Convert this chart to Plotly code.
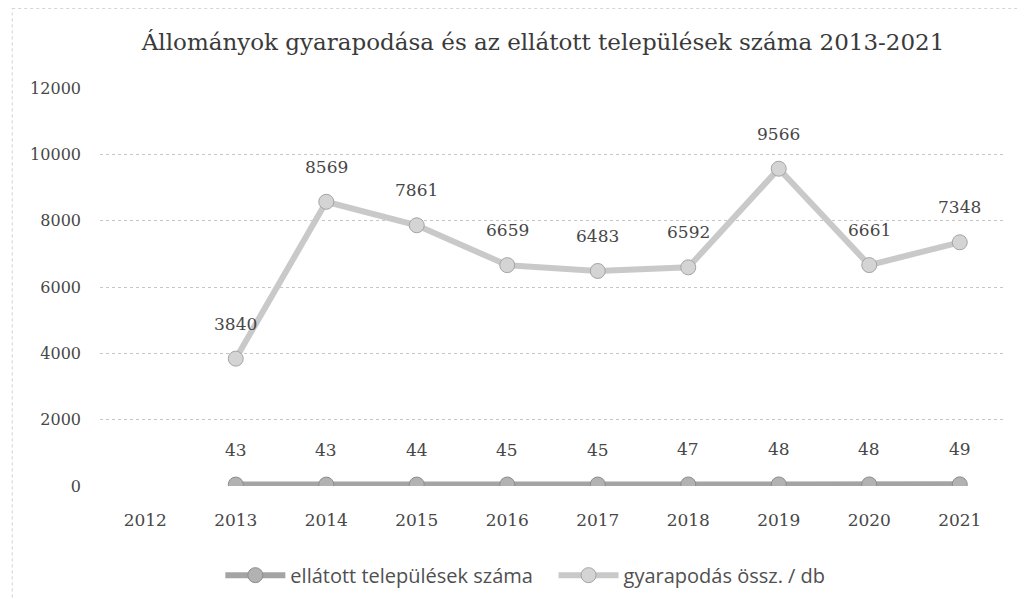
import plotly.graph_objects as go

BG = "#ffffff"
GRID = "#c6c6c6"
TXT = "#474747"
SERIF = "DejaVu Serif"
SANS = "Open Sans"

years = ["2012", "2013", "2014", "2015", "2016", "2017", "2018", "2019", "2020", "2021"]
telepulesek = [None, 43, 43, 44, 45, 45, 47, 48, 48, 49]
gyarapodas = [None, 3840, 8569, 7861, 6659, 6483, 6592, 9566, 6661, 7348]

y_ticks = [0, 2000, 4000, 6000, 8000, 10000, 12000]

fig = go.Figure()

fig.add_trace(go.Scatter(
    x=years, y=telepulesek,
    name="ellátott települések száma   ",
    mode="lines+markers",
    line=dict(color="#a4a4a4", width=6),
    marker=dict(size=15, color="#b2b2b2", line=dict(color="#8c8c8c", width=1)),
))
fig.add_trace(go.Scatter(
    x=years, y=gyarapodas,
    name="gyarapodás össz. / db",
    mode="lines+markers",
    line=dict(color="#c9c9c9", width=6),
    marker=dict(size=15, color="#d4d4d4", line=dict(color="#a4a4a4", width=1)),
))

# data labels above each point (category index keeps the year from being read as a number)
for series in (telepulesek, gyarapodas):
    for i, v in enumerate(series):
        if v is None:
            continue
        fig.add_annotation(
            x=i, y=v, text=str(v), showarrow=False, yshift=35,
            font=dict(family=SERIF, size=17, color=TXT),
        )

# faint scan border
fig.add_shape(type="line", xref="paper", yref="paper",
              x0=-0.097, x1=1.04, y0=1.2, y1=1.2,
              line=dict(color="#d0d0d0", width=1, dash="dot"))
fig.add_shape(type="line", xref="paper", yref="paper",
              x0=-0.097, x1=-0.097, y0=-0.31, y1=1.2,
              line=dict(color="#d0d0d0", width=1, dash="dot"))

fig.update_layout(
    width=1025, height=599,
    paper_bgcolor=BG, plot_bgcolor=BG,
    margin=dict(t=80, b=121, l=92, r=28),
    font=dict(family=SERIF, color=TXT, size=16),
    title=dict(
        text="Állományok gyarapodása és az ellátott települések száma 2013-2021",
        font=dict(family=SERIF, size=23, color="#3a3a3a"),
        x=0.522, xanchor="center", y=0.943, yanchor="middle",
    ),
    xaxis=dict(
        type="category", categoryorder="array", categoryarray=years,
        range=[-0.5, 9.5], showgrid=False, zeroline=False, showline=False,
        ticks="", ticklabelstandoff=22,
        tickfont=dict(family=SERIF, size=17, color=TXT),
    ),
    yaxis=dict(
        range=[0, 12000], tickvals=y_ticks, ticktext=[str(t) for t in y_ticks],
        showgrid=True, gridcolor=GRID, griddash="dot", gridwidth=1,
        zeroline=False, showline=False, ticks="", ticklabelstandoff=18,
        tickfont=dict(family=SERIF, size=16, color=TXT),
    ),
    legend=dict(
        orientation="h", x=0.47, xanchor="center", y=-0.224, yanchor="middle",
        font=dict(family=SANS, size=20, color="#505050"),
        itemwidth=60, bgcolor="rgba(0,0,0,0)",
    ),
)

fig.write_html("out.html")
